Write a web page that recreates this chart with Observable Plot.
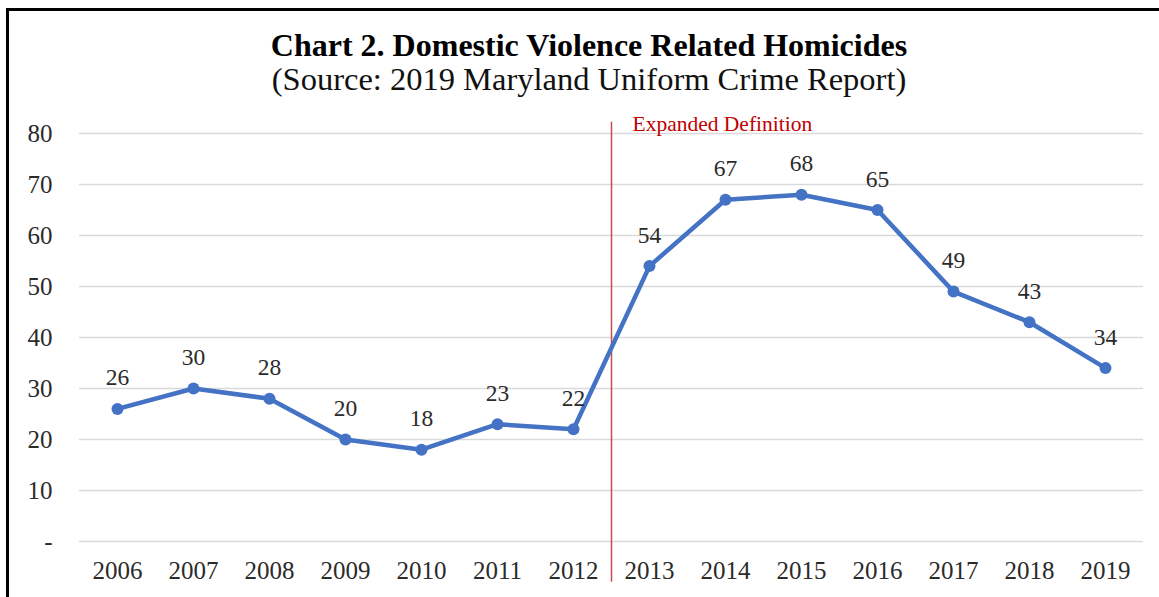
<!DOCTYPE html>
<html>
<head>
<meta charset="utf-8">
<script src="https://cdn.jsdelivr.net/npm/d3@7"></script>
<script src="https://cdn.jsdelivr.net/npm/@observablehq/plot@0.6"></script>
<style>
  html, body { margin: 0; padding: 0; background: #fff; }
  body { width: 1159px; height: 597px; overflow: hidden; position: relative; font-family: "Liberation Serif", "Times New Roman", serif; }
  #frame { position: absolute; left: 6px; top: 8px; width: 1200px; height: 700px; border-top: 3px solid #000; border-left: 3px solid #000; }
  #head { position: absolute; left: 0; top: 0; width: 1178px; height: 100px; text-align: center; color: #000; }
  #title { position: absolute; top: 27px; width: 100%; font-weight: bold; font-size: 32px; line-height: 37px; }
  #subtitle { position: absolute; top: 61px; width: 100%; font-size: 32.5px; line-height: 37px; color: #111; }
  #chart { position: absolute; left: 0; top: 100px; }
</style>
</head>
<body>
<div id="frame"></div>
<div id="head">
  <div id="title">Chart 2. Domestic Violence Related Homicides</div>
  <div id="subtitle">(Source: 2019 Maryland Uniform Crime Report)</div>
</div>
<div id="chart"></div>
<script>
const years = [2006, 2007, 2008, 2009, 2010, 2011, 2012, 2013, 2014, 2015, 2016, 2017, 2018, 2019];
const homicides = [26, 30, 28, 20, 18, 23, 22, 54, 67, 68, 65, 49, 43, 34];
const yTicks = [0, 10, 20, 30, 40, 50, 60, 70, 80];
const breakYear = 2012.5;
const breakLabel = "Expanded Definition";

const data = years.map((y, i) => ({year: y, value: homicides[i]}));
const font = "Liberation Serif, Times New Roman, serif";

const chart = Plot.plot({
  width: 1159,
  height: 497,
  marginLeft: 79,
  marginRight: 16,
  marginTop: 33,
  marginBottom: 56,
  style: {fontFamily: font, fontSize: "25px", color: "#2b2b2b", background: "transparent"},
  x: {domain: [2005.5, 2019.5], ticks: years, tickFormat: d => String(d), tickSize: 0, tickPadding: 20, label: null},
  y: {domain: [0, 80], ticks: yTicks, tickFormat: d => d === 0 ? "-" : String(d), tickSize: 0, tickPadding: 27, label: null},
  marks: [
    Plot.ruleY(yTicks, {stroke: "#d9d9d9", strokeWidth: 1.5}),
    Plot.ruleX([breakYear], {y1: -8, y2: 82.2, stroke: "#c0504d", strokeWidth: 1.5, clip: false}),
    Plot.text([breakLabel], {x: breakYear, y: 82.2, dx: 21, dy: 2, text: d => d, textAnchor: "start", fill: "#c00000", fontSize: 21.5, fontFamily: font}),
    Plot.line(data, {x: "year", y: "value", stroke: "#4472c4", strokeWidth: 4.5, curve: "linear"}),
    Plot.dot(data, {x: "year", y: "value", r: 6, fill: "#4472c4", stroke: "none"}),
    Plot.text(data, {x: "year", y: "value", text: d => String(d.value), dy: -31, fill: "#2b2b2b", fontSize: 23.5, fontFamily: font})
  ]
});
document.getElementById("chart").appendChild(chart);
</script>
</body>
</html>
